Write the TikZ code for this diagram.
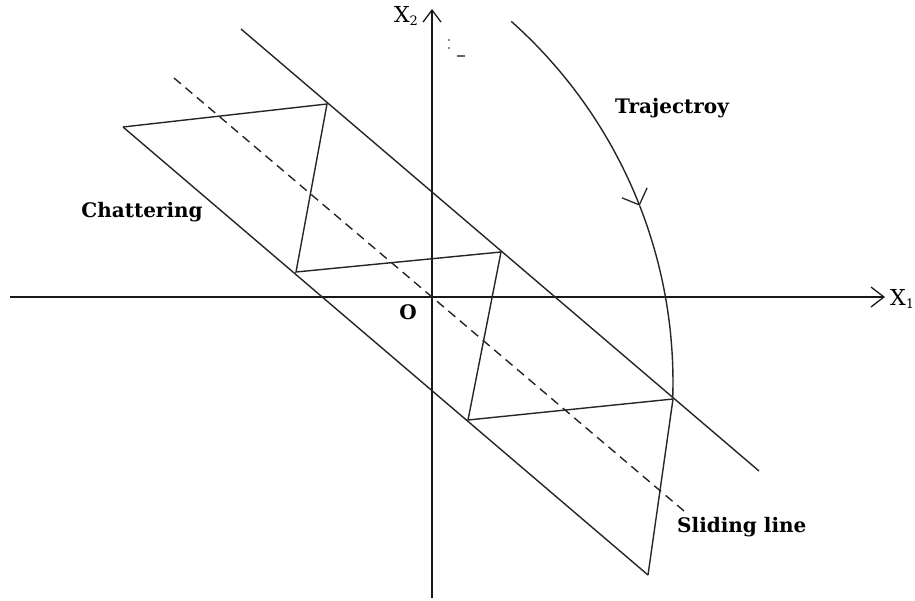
\documentclass[tikz,border=0pt]{standalone}
\usepackage{fontspec}
\setmainfont{DejaVu Serif}
\usetikzlibrary{arrows.meta}
\begin{document}
\begin{tikzpicture}[x=1pt,y=-1pt,
  ln/.style={line width=1.4pt, black!85},
  axis/.style={line width=1.5pt, black!90},
  lbl/.style={font=\fontsize{20}{22}\selectfont\bfseries, inner sep=0pt},
  axlbl/.style={font=\fontsize{22}{24}\selectfont, inner sep=0pt},
  barb/.style={-{Straight Barb[length=13pt,width=20pt,line width=1.3pt]}},
  tbarb/.style={-{Straight Barb[length=13pt,width=27pt,line width=1.3pt]}}]
\useasboundingbox (0,0) rectangle (915,601);
\fill[white] (0,0) rectangle (915,601);
% coordinates
\coordinate (xs) at (10,297);
\coordinate (xe) at (885,297);
\coordinate (ys) at (432,598);
\coordinate (ye) at (432,9);
\coordinate (u0) at (241,29);
\coordinate (u1) at (759,471);
\coordinate (l1) at (648,575);
\coordinate (d0) at (174,78);
\coordinate (d1) at (684,511);
\coordinate (p0) at (123,127);
\coordinate (p1) at (327,104);
\coordinate (p2) at (296,272);
\coordinate (p3) at (501,252);
\coordinate (p4) at (468,420);
\coordinate (p5) at (673,399);
% axes
\draw[axis,barb] (xs) -- (xe);
\draw[axis,-{Straight Barb[length=12pt,width=18pt,line width=1.3pt]}] (ys) -- (ye);
% band lines
\draw[ln] (u0) -- (u1);
\draw[ln] (p0) -- (l1);
\draw[ln, dash pattern=on 9pt off 6pt] (d0) -- (d1);
% zigzag
\draw[ln] (p0) -- (p1) -- (p2) -- (p3) -- (p4) -- (p5) -- (l1);
% trajectory
\draw[ln,tbarb] plot[domain=-48.3:-21.4, samples=40] ({190+483*cos(\x)}, {382+483*sin(\x)});
\draw[ln] plot[domain=-21.4:1.9, samples=30] ({190+483*cos(\x)}, {382+483*sin(\x)});
% small marks
\fill[black!60] (449,40) circle (1.1pt) (449,48) circle (1.1pt);
\draw[black!60, line width=1.2pt] (457,56) -- (465,56);
% labels
\node[axlbl] (x2) at (406,16) {X\raisebox{-3pt}{\fontsize{13}{14}\selectfont 2}};
\node[axlbl, anchor=west] (x1) at (890,299) {X\raisebox{-3pt}{\fontsize{13}{14}\selectfont 1}};
\node[lbl] (o) at (408,312) {O};
\node[lbl] (traj) at (672,108) {Trajectroy};
\node[lbl] (chat) at (142,212) {Chattering};
\node[lbl, anchor=west] (slide) at (677,527) {Sliding line};
\end{tikzpicture}
\end{document}
